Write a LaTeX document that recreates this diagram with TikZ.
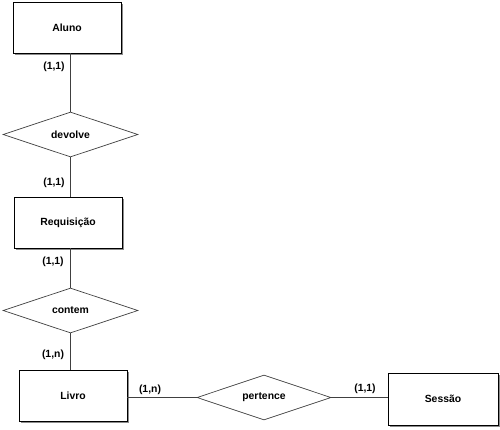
\documentclass[tikz,border=0pt]{standalone}
\usepackage{fontspec}
\setmainfont{Liberation Sans}
\usetikzlibrary{shapes.geometric,shadows}
\begin{document}
\begin{tikzpicture}[x=1pt,y=-1pt,
  every node/.style={font=\fontsize{10.4}{12}\selectfont\bfseries},
  entity/.style={draw=black,line width=0.9pt,fill=white,minimum width=108pt,minimum height=51pt,inner sep=0pt,
    drop shadow={shadow xshift=1.6pt,shadow yshift=-1.6pt,fill=black!45,opacity=1}},
  rel/.style={diamond,draw=black!75,line width=0.7pt,fill=white,aspect=3,minimum width=135pt,minimum height=45pt,inner sep=0pt},
  conn/.style={draw=black!75,line width=0.7pt},
  card/.style={inner sep=0pt}]
\useasboundingbox[fill=white] (0,0) rectangle (500,429);
\node[entity] (aluno) at (67,27.5) {Aluno};
\node[entity] (req) at (68,222.5) {Requisição};
\node[entity] (livro) at (73,395.5) {Livro};
\node[entity,minimum width=110pt,minimum height=52pt] (sessao) at (443,399) {Sessão};
\node[rel] (devolve) at (70.5,134.5) {devolve};
\node[rel] (contem) at (70.5,310.5) {contem};
\node[rel,minimum width=134pt] (pertence) at (264,397.5) {pertence};
\draw[conn] (devolve.north) -- (devolve.north |- aluno.south);
\draw[conn] (devolve.south) -- (devolve.south |- req.north);
\draw[conn] (contem.north) -- (contem.north |- req.south);
\draw[conn] (contem.south) -- (contem.south |- livro.north);
\draw[conn] (pertence.west) -- (pertence.west -| livro.east);
\draw[conn] (pertence.east) -- (pertence.east -| sessao.west);
\node[card] (c1) at (54,67) {(1,1)};
\node[card] (c2) at (54,183) {(1,1)};
\node[card] (c3) at (53,262) {(1,1)};
\node[card] (c4) at (53,355) {(1,n)};
\node[card] (c5) at (150,390) {(1,n)};
\node[card] (c6) at (365,389) {(1,1)};
\end{tikzpicture}
\end{document}
